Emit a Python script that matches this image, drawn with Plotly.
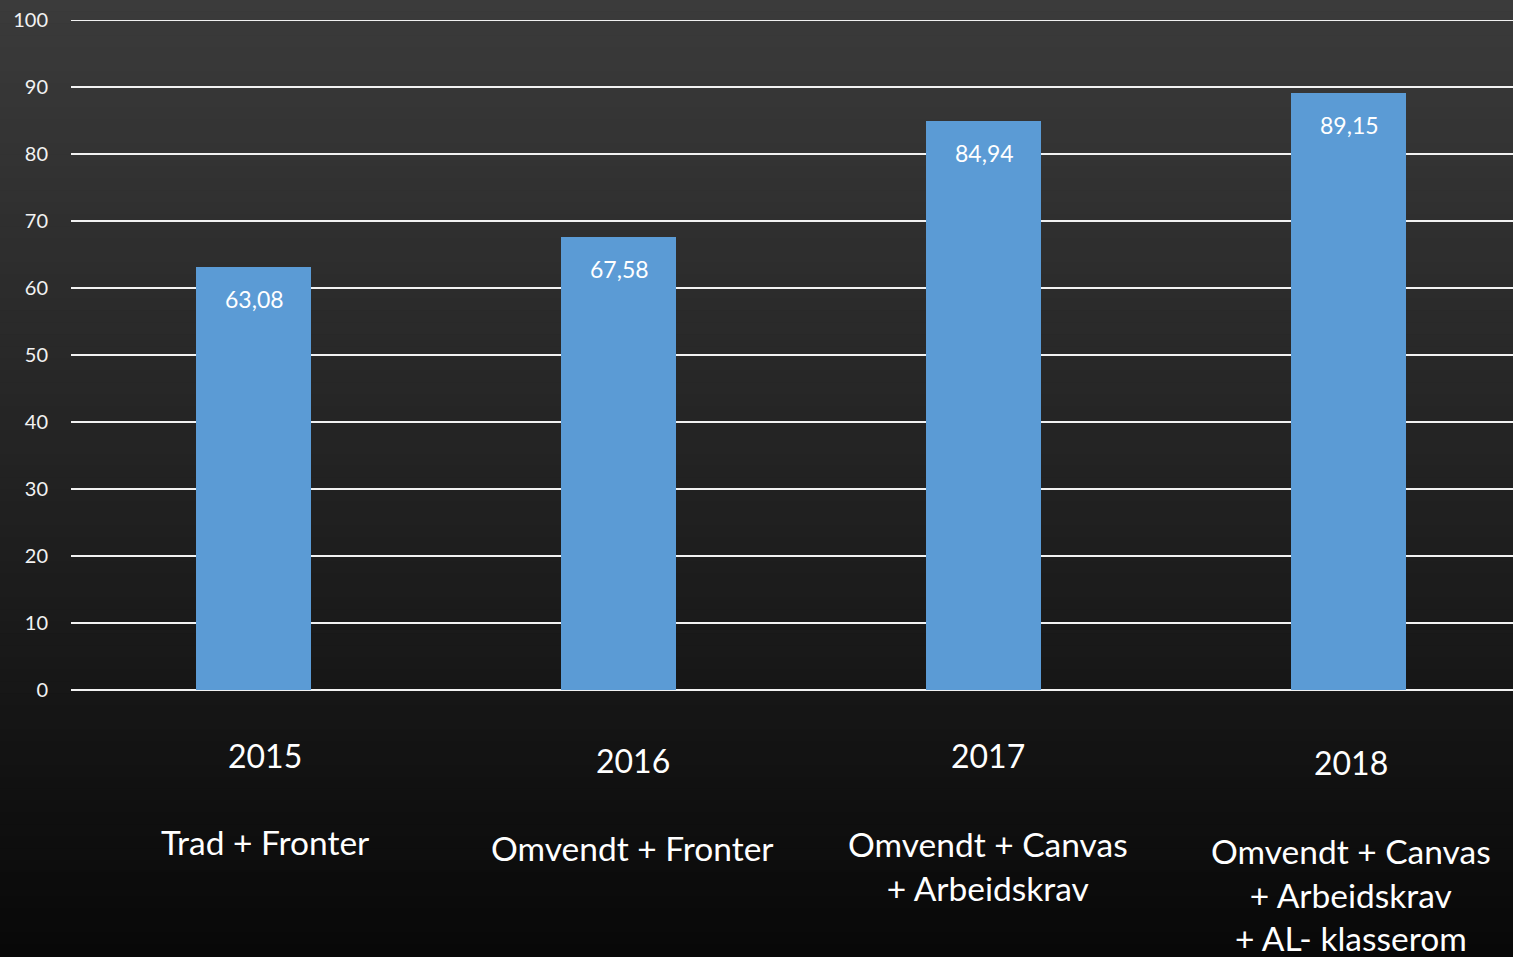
import plotly.graph_objects as go

years = ["2015", "2016", "2017", "2018"]
conditions = [
    "Trad + Fronter",
    "Omvendt + Fronter",
    "Omvendt + Canvas<br>+ Arbeidskrav",
    "Omvendt + Canvas<br>+ Arbeidskrav<br>+ AL- klasserom",
]
scores = [63.08, 67.58, 84.94, 89.15]
y_ticks = [0, 10, 20, 30, 40, 50, 60, 70, 80, 90, 100]

W, H = 1513, 957
ML, MR, MT, MB = 71, 0, 20, 267
PW = W - ML - MR
PH = H - MT - MB

FONT = "Lato"

xs = list(range(len(years)))

fig = go.Figure()
fig.add_trace(go.Bar(
    x=xs, y=scores, marker=dict(color="#5B9BD5", line=dict(width=0)),
    width=0.315, hoverinfo="skip",
))

annotations = []
for i, v in zip(xs, scores):
    annotations.append(dict(
        x=i, y=v, xref="x", yref="y", text=f"{v:.2f}".replace(".", ","),
        showarrow=False, yanchor="middle", yshift=-32, xshift=1,
        font=dict(family=FONT, size=23, color="white"),
    ))

year_px = [(265, 755), (633, 760), (988, 755), (1351, 762)]
cond_px = [(265, 843), (632, 849), (988, 845), (1351, 852)]


def px_to_paper(px, py):
    return (px - ML) / PW, (H - MB - py) / PH


for yr, (px, py) in zip(years, year_px):
    xp, yp = px_to_paper(px, py)
    annotations.append(dict(
        x=xp, y=yp, xref="paper", yref="paper", text=yr, showarrow=False,
        xanchor="center", yanchor="middle",
        font=dict(family=FONT, size=32, color="white"),
    ))
for c, (px, py) in zip(conditions, cond_px):
    xp, yp = px_to_paper(px, py)
    annotations.append(dict(
        x=xp, y=yp, xref="paper", yref="paper", text=c, showarrow=False,
        xanchor="center", yanchor="top", yshift=23, align="center",
        font=dict(family=FONT, size=33.5, color="white"),
    ))

# gradient background bands
shapes = []
N = 80
top = (0x3B, 0x3B, 0x3B)
mid = (0x22, 0x22, 0x22)
bot = (0x08, 0x08, 0x08)
for i in range(N):
    t = (i + 0.5) / N
    if t < 0.5:
        a, b, f = top, mid, t / 0.5
    else:
        a, b, f = mid, bot, (t - 0.5) / 0.5
    c = tuple(int(round(a[k] + (b[k] - a[k]) * f)) for k in range(3))
    fy1 = (H * (1 - i / N) - MB) / PH
    fy0 = (H * (1 - (i + 1) / N) - MB) / PH
    shapes.append(dict(
        type="rect", xref="paper", yref="paper",
        x0=-ML / PW - 0.01, x1=1.01, y0=fy0 - 0.001, y1=fy1 + 0.001,
        fillcolor="rgb(%d,%d,%d)" % c, line=dict(width=0), layer="below",
    ))

# top gridline at 100 (plotly omits gridline at range edge)
shapes.append(dict(type="line", xref="paper", yref="y", x0=0, x1=1,
                   y0=y_ticks[-1], y1=y_ticks[-1],
                   line=dict(color="#f2f2f2", width=2), layer="below"))

fig.update_layout(
    width=W, height=H,
    margin=dict(l=ML, r=MR, t=MT, b=MB, pad=0),
    paper_bgcolor="#1a1a1a", plot_bgcolor="rgba(0,0,0,0)",
    showlegend=False, bargap=0,
    shapes=shapes, annotations=annotations,
    xaxis=dict(range=[-0.5, 3.45], showticklabels=False, showgrid=False,
               zeroline=False, showline=False, ticks="", fixedrange=True),
    yaxis=dict(range=[0, 100], tickvals=y_ticks, showgrid=True,
               gridcolor="#f2f2f2", gridwidth=2, zeroline=True,
               zerolinecolor="#f2f2f2", zerolinewidth=2,
               ticks="", ticklabelstandoff=22,
               tickfont=dict(family=FONT, size=20, color="#f2f2f2"),
               fixedrange=True),
)

fig.write_html("out.html", config={"displayModeBar": False})
